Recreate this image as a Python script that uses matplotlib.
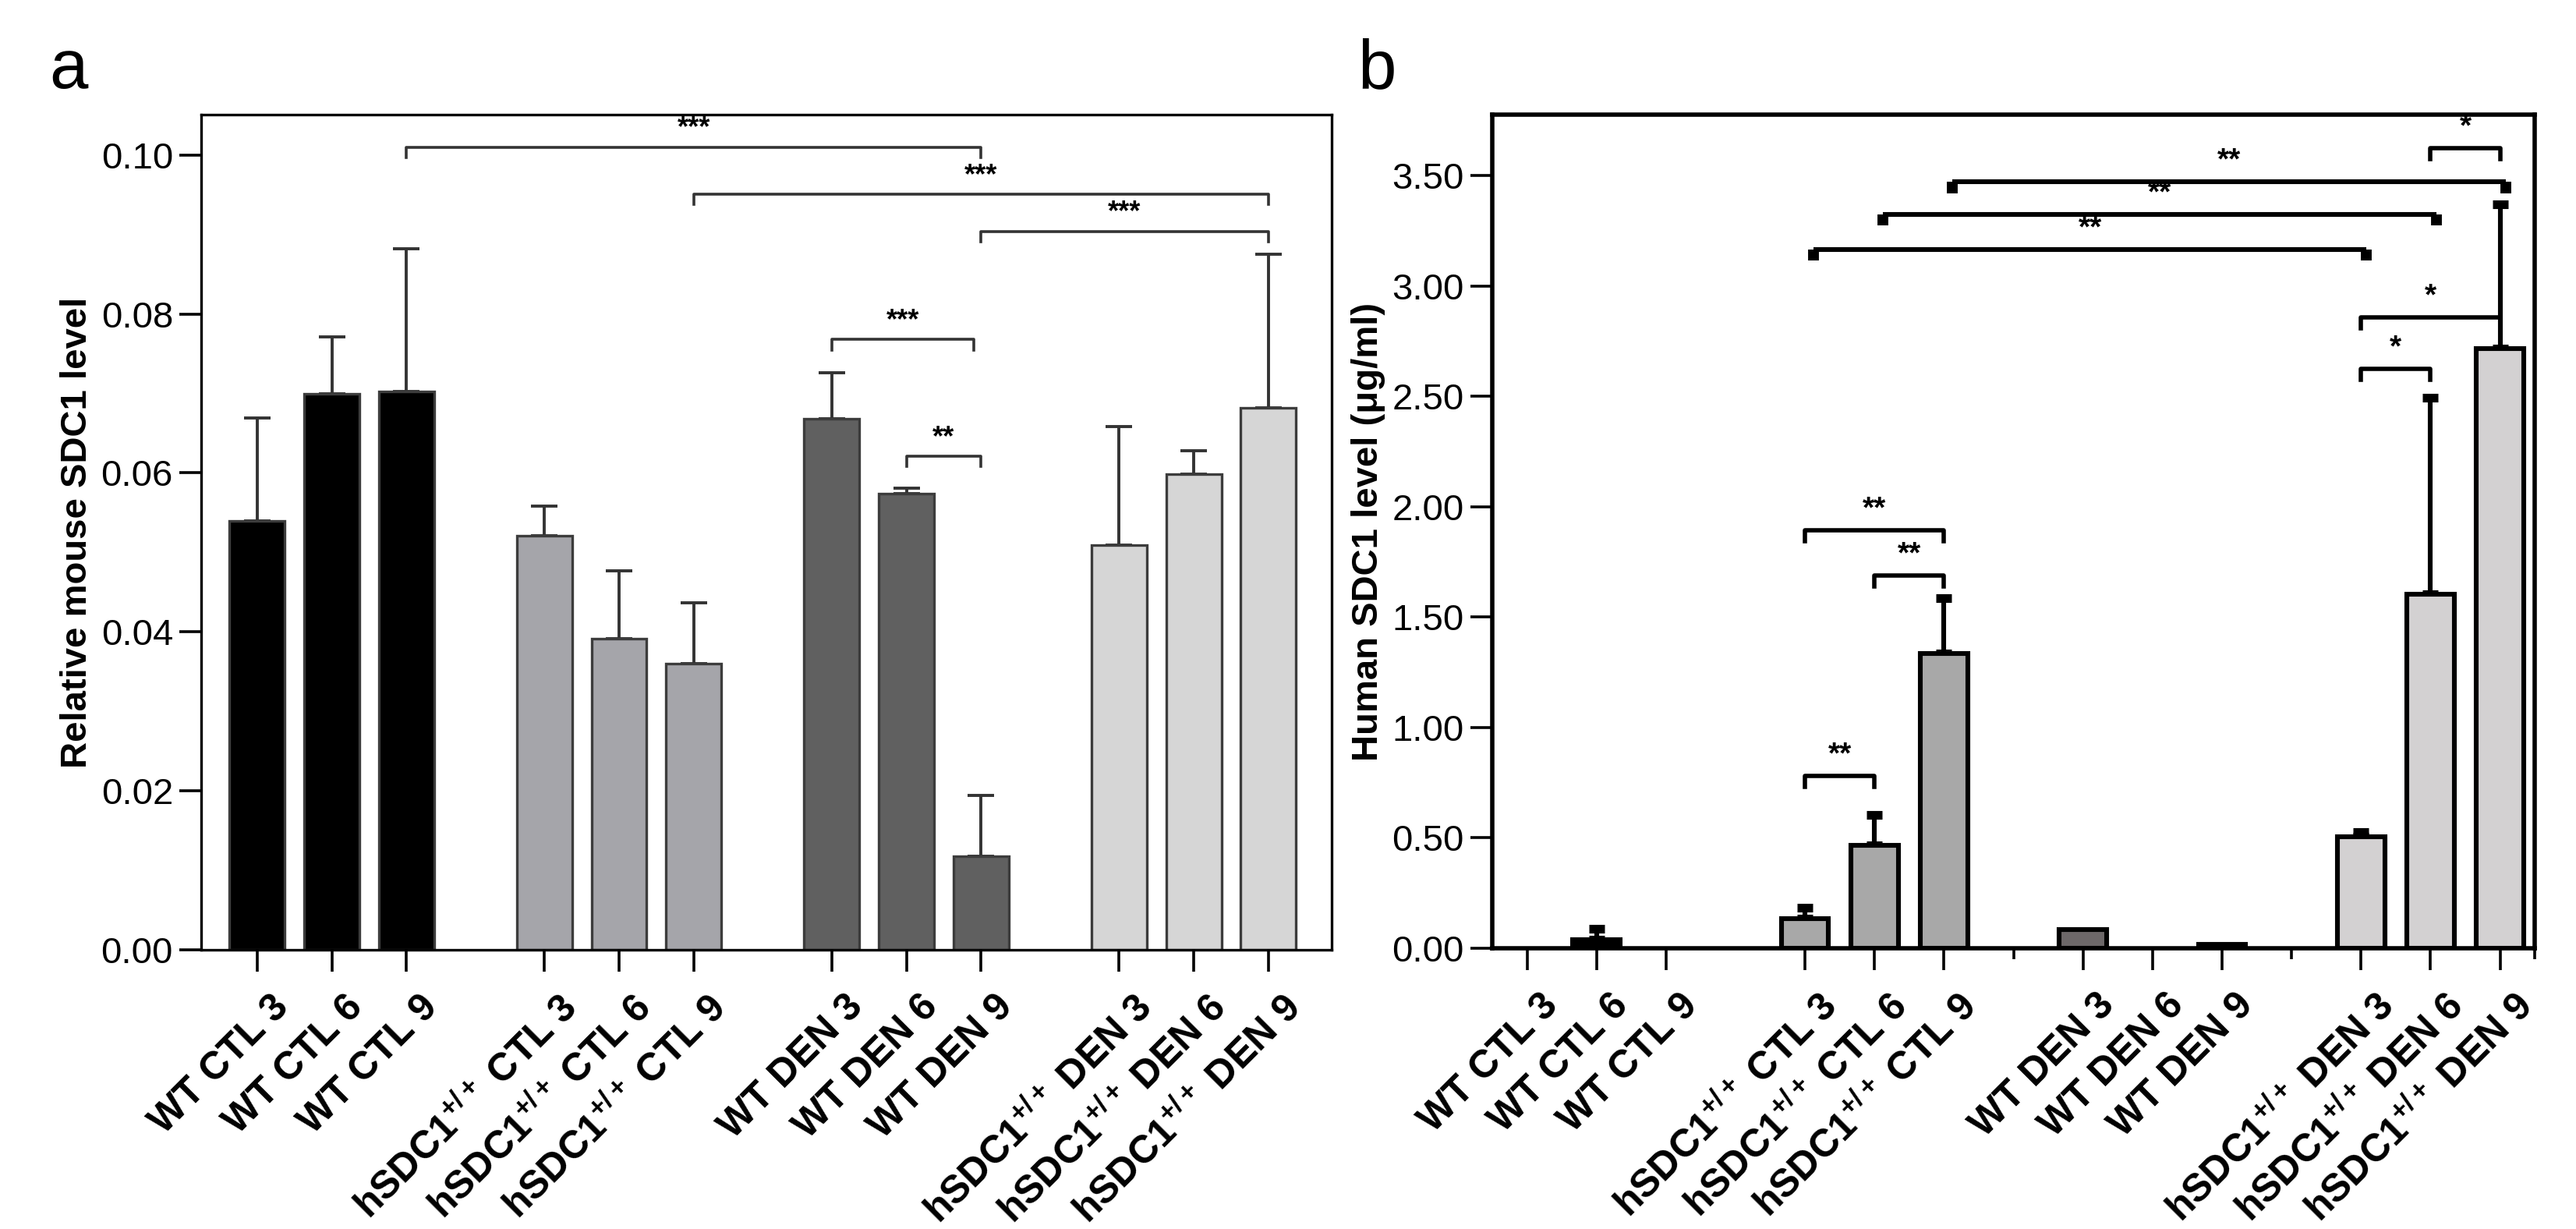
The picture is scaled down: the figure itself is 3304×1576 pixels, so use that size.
import numpy as np
import matplotlib
matplotlib.use("Agg")
from matplotlib import pyplot as plt
import matplotlib.transforms as mtransforms

plt.rcParams["font.family"] = ["Liberation Sans", "DejaVu Sans"]
plt.rcParams["mathtext.fontset"] = "custom"
plt.rcParams["mathtext.rm"] = "Liberation Sans"
plt.rcParams["mathtext.bf"] = "Liberation Sans:bold"
plt.rcParams["mathtext.it"] = "Liberation Sans:italic"

# ---- data ----
labels = ["WT CTL 3", "WT CTL 6", "WT CTL 9",
          r"hSDC1$^{\mathbf{+/+}}$ CTL 3", r"hSDC1$^{\mathbf{+/+}}$ CTL 6", r"hSDC1$^{\mathbf{+/+}}$ CTL 9",
          "WT DEN 3", "WT DEN 6", "WT DEN 9",
          r"hSDC1$^{\mathbf{+/+}}$ DEN 3", r"hSDC1$^{\mathbf{+/+}}$ DEN 6", r"hSDC1$^{\mathbf{+/+}}$ DEN 9"]

mouse_mean = [0.0540, 0.0700, 0.0703, 0.0521, 0.0391, 0.0360,
              0.0668, 0.0574, 0.0118, 0.0509, 0.0599, 0.0682]
mouse_err = [0.0129, 0.0071, 0.0179, 0.0037, 0.0086, 0.0077,
             0.0058, 0.0007, 0.0076, 0.0149, 0.0029, 0.0193]

human_mean = [0.0, 0.040, 0.0, 0.135, 0.465, 1.335,
              0.085, 0.0, 0.018, 0.505, 1.605, 2.715]
human_err = [0.0, 0.050, 0.0, 0.050, 0.140, 0.250,
             0.0, 0.0, 0.0, 0.020, 0.890, 0.655]

# (bar i, bar j, height, text)
mouse_sig = [(2, 8, 0.1010, "***"), (5, 11, 0.0951, "***"), (8, 11, 0.0904, "***"),
             (6, 8, 0.0768, "***"), (7, 8, 0.0621, "**")]
human_sig_long = [(5, 11, 3.471, "**"), (4, 10, 3.325, "**"), (3, 9, 3.164, "**")]
human_sig = [(10, 11, 3.624, "*"), (9, 11, 2.857, "*"), (9, 10, 2.626, "*"),
             (3, 5, 1.893, "**"), (4, 5, 1.690, "**"), (3, 4, 0.780, "**")]

cols_a = ["#000000"] * 3 + ["#a5a5aa"] * 3 + ["#606060"] * 3 + ["#d6d6d6"] * 3
cols_b = ["#000000"] * 3 + ["#a8a8a8"] * 3 + ["#6d6869"] * 3 + ["#d3d1d2"] * 3

pos_a = np.array([0, 1, 2, 3.85, 4.85, 5.85, 7.7, 8.7, 9.7, 11.55, 12.55, 13.55])
pos_b = np.array([0, 1, 2, 4, 5, 6, 8, 9, 10, 12, 13, 14])

fig = plt.figure(figsize=(16.52, 7.88), dpi=200)
ax1 = fig.add_axes([0.0781, 0.2272, 0.4389, 0.6796])
ax2 = fig.add_axes([0.5793, 0.2284, 0.4047, 0.6783])

tick_font = ["Liberation Sans Narrow", "Liberation Sans", "DejaVu Sans"]

# ---- panel a ----
ax1.bar(pos_a, mouse_mean, width=0.74, color=cols_a, edgecolor="#3c3c3c", linewidth=1.2, zorder=2)
ax1.errorbar(pos_a, mouse_mean, yerr=[np.zeros(12), mouse_err], fmt="none",
             ecolor="#333333", elinewidth=1.4, capsize=6, capthick=1.4, zorder=1)
ax1.set_xlim(-0.75, 14.4)
ax1.set_ylim(0, 0.1051)
ax1.set_yticks([0, 0.02, 0.04, 0.06, 0.08, 0.10])
ax1.set_yticklabels(["0.00", "0.02", "0.04", "0.06", "0.08", "0.10"], family=tick_font, fontsize=17)
ax1.set_ylabel("Relative mouse SDC1 level", fontsize=17, fontweight="bold", labelpad=3)
for s in ax1.spines.values():
    s.set_linewidth(1.2)
for i, j, y, t in mouse_sig:
    x0, x1 = pos_a[i], pos_a[j]
    if (i, j) == (6, 8):
        x1 = x1 - 0.1
    ax1.plot([x0, x0, x1, x1], [y - 0.0013, y, y, y - 0.0013], color="#333333", lw=1.3)
    ax1.text((x0 + x1) / 2, y + 0.0006, t, ha="center", va="bottom", fontsize=13, fontweight="bold")

# ---- panel b ----
hm = np.array(human_mean)
he = np.array(human_err)
has_bar = hm > 0
has_err = he > 0
ax2.bar(pos_b[has_bar], hm[has_bar], width=0.68, color=np.array(cols_b)[has_bar],
        edgecolor="black", linewidth=2.2, zorder=2)
ax2.errorbar(pos_b[has_err], hm[has_err], yerr=[np.zeros(has_err.sum()), he[has_err]], fmt="none",
             ecolor="black", elinewidth=2.2, capsize=3.5, capthick=4, zorder=1)
ax2.set_xlim(-0.5, 14.5)
ax2.set_ylim(0, 3.776)
ax2.set_yticks([0, 0.5, 1.0, 1.5, 2.0, 2.5, 3.0, 3.5])
ax2.set_yticklabels(["0.00", "0.50", "1.00", "1.50", "2.00", "2.50", "3.00", "3.50"],
                    family=tick_font, fontsize=17)
ax2.set_xticks([7, 11, 14.5], minor=True)
ax2.tick_params(axis="x", which="minor", length=5, width=1.3)
ax2.set_ylabel("Human SDC1 level (\u03bcg/ml)", fontsize=17, fontweight="bold", labelpad=3)
for s in ax2.spines.values():
    s.set_linewidth(2.0)
for i, j, y, t in human_sig_long:
    x0, x1 = pos_b[i] + 0.12, pos_b[j] + 0.08
    ax2.plot([x0, x1], [y, y], color="black", lw=2.2, solid_capstyle="butt")
    for xe in (x0, x1):
        ax2.plot([xe, xe], [y, y - 0.05], color="black", lw=5, solid_capstyle="butt")
    ax2.text((x0 + x1) / 2, y + 0.03, t, ha="center", va="bottom", fontsize=14, fontweight="bold")
for i, j, y, t in human_sig:
    x0, x1 = pos_b[i], pos_b[j]
    ax2.plot([x0, x0, x1, x1], [y - 0.05, y, y, y - 0.05], color="black", lw=2.0)
    ax2.text((x0 + x1) / 2, y + 0.03, t, ha="center", va="bottom", fontsize=14, fontweight="bold")

# ---- common axis styling ----
for ax, pos in ((ax1, pos_a), (ax2, pos_b)):
    ax.set_xticks(pos)
    ax.set_xticklabels(labels, rotation=45, ha="right", va="top", rotation_mode="anchor",
                       fontsize=18, fontweight="bold")
    ax.tick_params(axis="x", which="major", length=10, width=1.3, pad=8)
    ax.tick_params(axis="y", length=10, width=1.3, pad=3)
    shift = mtransforms.ScaledTranslation(6 / 72, 0, fig.dpi_scale_trans)
    for lab in ax.get_xticklabels():
        lab.set_transform(lab.get_transform() + shift)

fig.text(0.019, 0.928, "a", fontsize=32)
fig.text(0.527, 0.928, "b", fontsize=32)

fig.savefig("out.png", dpi=200)
